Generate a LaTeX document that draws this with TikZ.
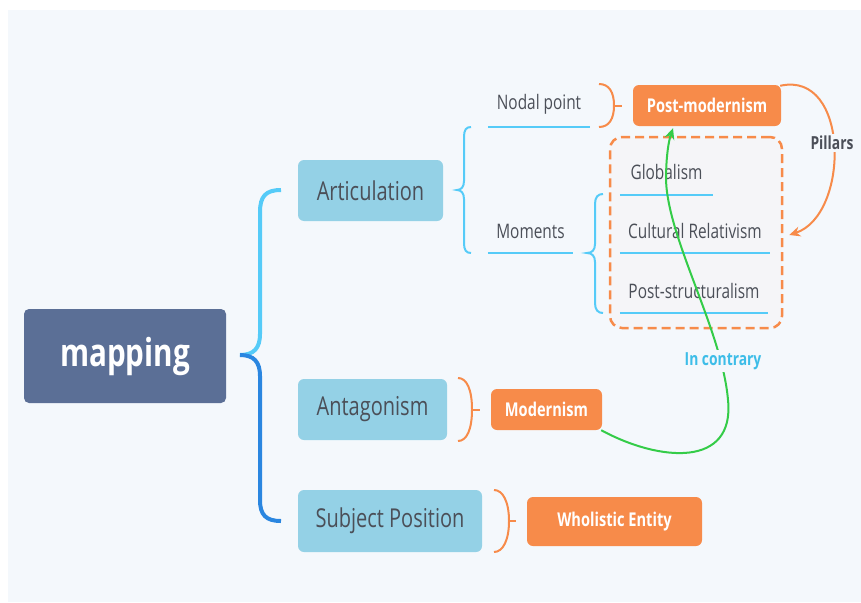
\documentclass[tikz,border=0pt]{standalone}
\usepackage{fontspec}
\setmainfont{Open Sans}[FakeStretch=0.77]
\usetikzlibrary{arrows.meta}
\definecolor{bgpanel}{HTML}{F4F8FC}
\definecolor{rootc}{HTML}{5B6F96}
\definecolor{topicc}{HTML}{94D1E6}
\definecolor{orangec}{HTML}{F78B4A}
\definecolor{cyanl}{HTML}{55CBF8}
\definecolor{blued}{HTML}{2A86E0}
\definecolor{txtc}{HTML}{4B4F58}
\definecolor{grpfill}{HTML}{F5F5F8}
\definecolor{greenc}{HTML}{34CC48}
\definecolor{contc}{HTML}{3DBDE8}
\tikzset{
  rootbox/.style={fill=rootc, rounded corners=5pt, inner sep=0pt, text=white, font=\fontsize{38.5}{44}\selectfont\bfseries},
  topicbox/.style={fill=topicc, rounded corners=6pt, inner sep=0pt, text=txtc, font=\fontsize{26}{30}\selectfont},
  obox/.style={fill=orangec, rounded corners=6pt, inner sep=0pt, text=white, font=\fontsize{19}{22}\selectfont\bfseries},
  subtxt/.style={inner sep=0pt, text=txtc, font=\fontsize{20}{24}\selectfont},
  uline/.style={draw=cyanl, line width=2.5pt},
  cbrace/.style={draw=cyanl, line width=2pt},
  obrace/.style={draw=orangec, line width=2pt},
  grpbox/.style={draw=orangec, fill=grpfill, line width=2.5pt, dash pattern=on 9pt off 5pt, rounded corners=12pt, inner sep=0pt},
  relarrow/.style={line width=2pt, -{Stealth[length=11pt,width=10pt]}},
  rellabel/.style={fill=bgpanel, inner sep=2pt, font=\fontsize{18}{22}\selectfont\bfseries}
}
\begin{document}
\begin{tikzpicture}[x=1pt,y=-1pt]
\useasboundingbox (0,0) rectangle (861,602);
\fill[white] (0,0) rectangle (861,602);
\fill[bgpanel] (8,10) rectangle (861,602);

% main nodes
\node[rootbox, minimum width=202pt, minimum height=94pt] (map) at (125,356) {mapping};
\node[topicbox, minimum width=145pt, minimum height=61pt] (art) at (370.5,190.5) {Articulation};
\node[topicbox, minimum width=149pt, minimum height=61pt] (ant) at (372.5,409.5) {Antagonism};
\node[topicbox, minimum width=184pt, minimum height=62pt] (sub) at (390,521) {Subject Position};

% group box
\node[grpbox, minimum width=172pt, minimum height=191pt] (grp) at (696,232.5) {};

% sub texts with underlines
\node[subtxt, minimum width=102pt, minimum height=46pt] (np) at (539,104) {Nodal point};
\node[subtxt, minimum width=85pt, minimum height=44pt] (mom) at (530.5,231) {Moments};
\node[subtxt, minimum width=93pt, minimum height=46pt] (glob) at (666.5,172) {Globalism};
\node[subtxt, minimum width=150pt, minimum height=44pt] (cult) at (695,231) {Cultural Relativism};
\node[subtxt, minimum width=148pt, minimum height=44pt] (post) at (694,291) {Post-structuralism};
\foreach \n in {np,mom,glob,cult,post}{
  \draw[uline] (\n.south west) -- (\n.south east);
}

% orange boxes
\node[obox, minimum width=148pt, minimum height=41pt] (pm) at (707,105.5) {Post-modernism};
\node[obox, minimum width=111pt, minimum height=41pt] (mod) at (546.5,409.5) {Modernism};
\node[obox, minimum width=175pt, minimum height=49pt] (whol) at (614.5,521.5) {Wholistic Entity};

% big brace
\draw[draw=cyanl, line width=4pt] (281,190) .. controls (266,190) and (260,196) .. (260,212) -- (260,334) .. controls (260,348) and (254,355) .. (240,355);
\draw[draw=blued, line width=4pt] (240,355) .. controls (254,355) and (260,362) .. (260,376) -- (260,500) .. controls (260,515) and (266,521) .. (281,521);

% articulation brace
\draw[cbrace] (471,127) .. controls (466,127) and (464,130) .. (464,137) -- (464,181) .. controls (464,187) and (461,190) .. (457,190) .. controls (461,190) and (464,193) .. (464,199) -- (464,243) .. controls (464,250) and (466,253) .. (471,253);
% moments brace
\draw[cbrace] (603,194) .. controls (598,194) and (595,197) .. (595,204) -- (595,244) .. controls (595,250) and (592,253) .. (587,253) .. controls (592,253) and (595,256) .. (595,262) -- (595,303) .. controls (595,310) and (598,313) .. (603,313);

% orange braces
\draw[obrace] (599,84) .. controls (609,84) and (614,92) .. (614,105.5) .. controls (614,119) and (609,127) .. (599,127);
\draw[obrace] (614,105.5) -- (622,105.5);
\draw[obrace] (458,378) .. controls (467,378) and (472,390) .. (472,409.5) .. controls (472,429) and (467,441) .. (458,441);
\draw[obrace] (472,409.5) -- (480,409.5);
\draw[obrace] (494,490) .. controls (503,490) and (509,502) .. (509,521) .. controls (509,540) and (503,552) .. (494,552);
\draw[obrace] (509,521) -- (516,521);

% Pillars relation
\coordinate (pillTip) at ([xshift=6pt,yshift=-2.5pt]grp.east);
\draw[relarrow, draw=orangec] ([xshift=-1pt,yshift=-1pt]pm.north east) .. controls (850,70) and (850,215) .. (pillTip);
\node[rellabel, text=txtc] (pill) at (832,143) {Pillars};

% In contrary relation
\coordinate (contTip) at ([xshift=-34pt,yshift=-2pt]pm.south);
\draw[relarrow, draw=greenc] ([xshift=-1pt]mod.south east) .. controls (660,462) and (735,468) .. (728,400) .. controls (722,330) and (668,240) .. (666,180) .. controls (666,155) and (669,140) .. (contTip);
\node[rellabel, text=contc] (cont) at (723,361) {In contrary};
\end{tikzpicture}
\end{document}
